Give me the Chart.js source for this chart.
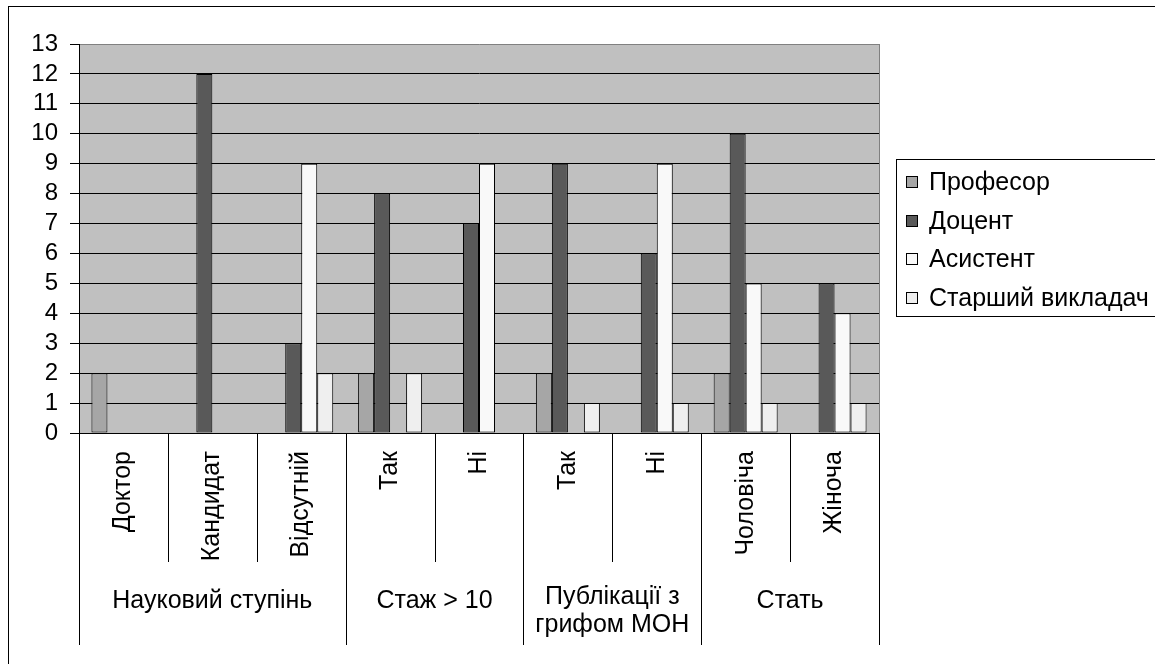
<!DOCTYPE html>
<html>
<head>
<meta charset="utf-8">
<script src="https://cdn.jsdelivr.net/npm/chart.js@4"></script>
<style>
  html, body { margin: 0; padding: 0; background: #fff; }
</style>
</head>
<body>
<canvas id="chart" width="1155" height="664"></canvas>
<script>
// categories and groups on the x axis
const categories = ['Доктор', 'Кандидат', 'Відсутній', 'Так', 'Ні', 'Так', 'Ні', 'Чоловіча', 'Жіноча'];
const groupLabels = [['Науковий ступінь'], ['Стаж > 10'], ['Публікації з', 'грифом МОН'], ['Стать']];
const groupSizes = [3, 2, 2, 2];

// series
const seriesNames = ['Професор', 'Доцент', 'Асистент', 'Старший викладач'];
const professor = [2, 0, 0, 2, 0, 2, 0, 2, 0];
const docent = [0, 12, 3, 8, 7, 9, 6, 10, 5];
const assistant = [0, 0, 9, 0, 9, 0, 9, 5, 4];
const seniorLecturer = [0, 0, 2, 2, 0, 1, 1, 1, 1];
const seriesColors = ['#a6a6a6', '#595959', '#f9f9f9', '#efefef'];

const yMin = 0, yMax = 13, yStep = 1;

const FONT = "'Liberation Sans', Arial, sans-serif";

const excelLook = {
  id: 'excelLook',
  beforeDraw(chart) {
    const { ctx, chartArea: a } = chart;
    ctx.save();
    ctx.fillStyle = '#fff';
    ctx.fillRect(0, 0, chart.width, chart.height);
    // outer frame (right and bottom fall off the picture)
    ctx.strokeStyle = '#000';
    ctx.lineWidth = 1;
    ctx.strokeRect(8.5, 6.5, chart.width + 10, chart.height + 10);
    // plot area
    ctx.fillStyle = '#c0c0c0';
    ctx.fillRect(a.left, a.top, a.right - a.left, a.bottom - a.top);
    ctx.restore();
  },
  afterDraw(chart) {
    const { ctx, chartArea: a } = chart;
    const x = chart.scales.x;
    const half = (x.getPixelForValue(1) - x.getPixelForValue(0)) / 2;
    const innerBottom = a.bottom + 129;
    ctx.save();
    ctx.strokeStyle = '#808080';
    ctx.lineWidth = 1;
    ctx.beginPath();
    ctx.moveTo(Math.round(a.right) + 0.5, a.top);
    ctx.lineTo(Math.round(a.right) + 0.5, a.bottom);
    ctx.stroke();

    ctx.strokeStyle = '#000';
    // separators between categories
    ctx.beginPath();
    for (let i = 0; i <= categories.length; i++) {
      const px = Math.round(x.getPixelForValue(i) - half) + 0.5;
      ctx.moveTo(px, a.bottom);
      ctx.lineTo(px, innerBottom);
    }
    // group separators run to the bottom of the axis
    let start = 0;
    const bounds = [0];
    groupSizes.forEach(n => { start += n; bounds.push(start); });
    bounds.forEach(b => {
      const px = Math.round(x.getPixelForValue(b) - half) + 0.5;
      ctx.moveTo(px, a.bottom);
      ctx.lineTo(px, x.bottom);
    });
    ctx.stroke();

    // group labels
    ctx.fillStyle = '#000';
    ctx.font = '25px ' + FONT;
    ctx.textAlign = 'center';
    ctx.textBaseline = 'middle';
    start = 0;
    groupSizes.forEach((n, g) => {
      const cx = (x.getPixelForValue(start) + x.getPixelForValue(start + n - 1)) / 2;
      const lines = groupLabels[g];
      const y0 = lines.length > 1 ? 597 : 601;
      lines.forEach((t, k) => ctx.fillText(t, cx, y0 + k * 28));
      start += n;
    });

    // legend
    const lx = 896, ly = 159, step = 38.7;
    ctx.strokeStyle = '#000';
    ctx.strokeRect(lx + 0.5, ly + 0.5, 400, 157);
    ctx.textAlign = 'left';
    chart.data.datasets.forEach((ds, i) => {
      const cy = 182 + i * step;
      const by = Math.round(cy - 6);
      ctx.fillStyle = ds.backgroundColor;
      ctx.fillRect(906, by, 12, 12);
      ctx.strokeStyle = '#000';
      ctx.strokeRect(906.5, by + 0.5, 11, 11);
      ctx.fillStyle = '#000';
      ctx.fillText(ds.label, 929, cy + 1);
    });
    ctx.restore();
  }
};

const series = [professor, docent, assistant, seniorLecturer];

new Chart(document.getElementById('chart'), {
  type: 'bar',
  data: {
    labels: categories,
    datasets: series.map((d, i) => ({
      label: seriesNames[i],
      data: d,
      backgroundColor: seriesColors[i],
      borderColor: '#000',
      borderWidth: 1,
      borderSkipped: false,
      categoryPercentage: 0.72,
      barPercentage: 1
    }))
  },
  options: {
    responsive: false,
    animation: false,
    devicePixelRatio: 1,
    layout: { padding: { left: 9, top: 44, right: 276, bottom: 19 } },
    plugins: { legend: { display: false }, tooltip: { enabled: false } },
    scales: {
      x: {
        afterFit(s) { s.height = 212; },
        grid: { display: false, drawTicks: false },
        border: { color: '#000', width: 1 },
        ticks: {
          autoSkip: false,
          minRotation: 90,
          maxRotation: 90,
          padding: 18,
          color: '#000',
          font: { family: FONT, size: 25 }
        }
      },
      y: {
        min: yMin,
        max: yMax,
        afterFit(s) { s.width = 70; },
        grid: {
          color: ctx => ctx.tick && ctx.tick.value === yMax ? '#808080' : '#000',
          tickColor: '#000',
          tickLength: 9,
          lineWidth: 1
        },
        border: { color: '#000', width: 1 },
        ticks: {
          stepSize: yStep,
          autoSkip: false,
          padding: 12,
          color: '#000',
          font: { family: FONT, size: 24 }
        }
      }
    }
  },
  plugins: [excelLook]
});
</script>
</body>
</html>
